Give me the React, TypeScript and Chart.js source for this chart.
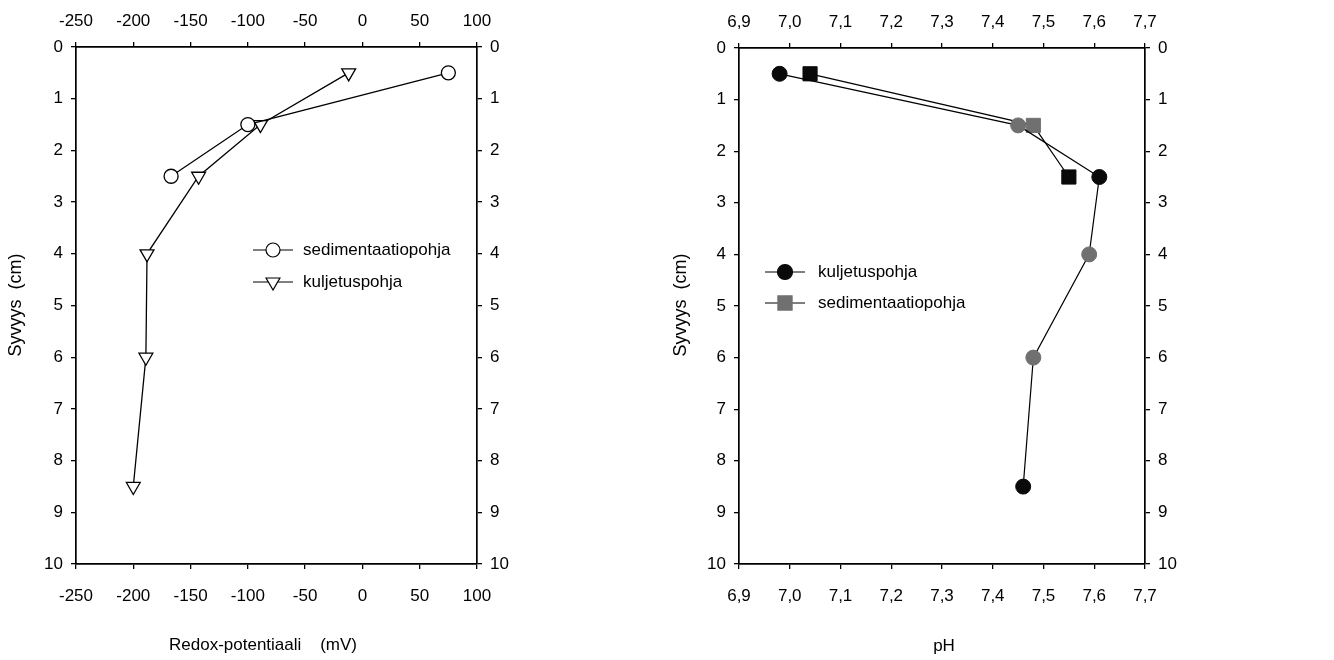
import React, { useEffect, useRef } from "react";
import { Chart, registerables } from "chart.js";
import { drawPoint } from "chart.js/helpers";

Chart.register(...registerables);

// Redox profile (mV) by sediment depth (cm)
const redoxDepthSediment = [0.5, 1.5, 2.5];
const redoxSediment = [75, -100, -167];
const redoxDepthTransport = [0.5, 1.5, 2.5, 4, 6, 8.5];
const redoxTransport = [-12, -89, -143, -188, -189, -200];

// pH profile by sediment depth (cm)
const phDepthTransport = [0.5, 1.5, 2.5, 4, 6, 8.5];
const phTransport = [6.98, 7.45, 7.61, 7.59, 7.48, 7.46];
const phTransportShade = ["dark", "grey", "dark", "grey", "grey", "dark"];
const phDepthSediment = [0.5, 1.5, 2.5];
const phSediment = [7.04, 7.48, 7.55];
const phSedimentShade = ["dark", "grey", "dark"];

const redoxTicks = [-250, -200, -150, -100, -50, 0, 50, 100];
const phTicks = [6.9, 7.0, 7.1, 7.2, 7.3, 7.4, 7.5, 7.6, 7.7];
const depthTicks = [0, 1, 2, 3, 4, 5, 6, 7, 8, 9, 10];

const FONT = "'Liberation Sans', Arial, Helvetica, sans-serif";
const DARK = "#0a0a0a";
const GREY = "#707070";

const shadeColor = (s: string) => (s === "grey" ? GREY : DARK);

type LegendItem = {
  label: string;
  style: string;
  radius: number;
  rotation?: number;
  fill: string;
};

// Legend drawn inside the plot area: short line, marker, label
const insetLegend = {
  id: "insetLegend",
  afterDraw(chart: any, _args: any, opts: any) {
    const { ctx } = chart;
    const items: LegendItem[] = opts.items || [];
    items.forEach((it, i) => {
      const cy = opts.y + i * opts.gap;
      ctx.save();
      ctx.strokeStyle = "#000";
      ctx.lineWidth = 1.2;
      ctx.beginPath();
      ctx.moveTo(opts.x - opts.half, cy);
      ctx.lineTo(opts.x + opts.half, cy);
      ctx.stroke();
      ctx.fillStyle = it.fill;
      ctx.strokeStyle = it.fill === "#ffffff" ? "#000" : it.fill;
      ctx.lineWidth = 1.2;
      drawPoint(
        ctx,
        { pointStyle: it.style as any, radius: it.radius, rotation: it.rotation || 0, borderWidth: 1.2 } as any,
        opts.x,
        cy
      );
      ctx.fillStyle = "#000";
      ctx.font = `17px ${FONT}`;
      ctx.textBaseline = "middle";
      ctx.textAlign = "left";
      ctx.fillText(it.label, opts.x + opts.textOffset, cy);
      ctx.restore();
    });
  },
};

// Axis captions placed at fixed spots around the frame
const axisCaptions = {
  id: "axisCaptions",
  afterDraw(chart: any, _args: any, opts: any) {
    const { ctx } = chart;
    (opts.items || []).forEach((c: any) => {
      ctx.save();
      ctx.translate(c.x, c.y);
      if (c.rotate) ctx.rotate(-Math.PI / 2);
      ctx.fillStyle = "#000";
      ctx.font = `${c.size}px ${FONT}`;
      ctx.textAlign = "center";
      ctx.textBaseline = "middle";
      ctx.fillText(c.text, 0, 0);
      ctx.restore();
    });
  },
};

type Frame = { left: number; right: number; top: number; bottom: number };

function makeScales(xTicks: number[], fmt: (v: number) => string, frame: Frame) {
  const tickFont = { family: FONT, size: 17 };
  const grid = {
    drawOnChartArea: false,
    drawTicks: true,
    tickLength: 5,
    color: "#000",
    lineWidth: 1.3,
  };
  const border = { display: true, color: "#000", width: 1.7 };
  const xBase = {
    type: "linear",
    min: xTicks[0],
    max: xTicks[xTicks.length - 1],
    grid,
    border,
    afterBuildTicks: (s: any) => {
      s.ticks = xTicks.map((v) => ({ value: v }));
    },
  };
  const yBase = {
    type: "linear",
    min: depthTicks[0],
    max: depthTicks[depthTicks.length - 1],
    reverse: true,
    grid,
    border,
    afterBuildTicks: (s: any) => {
      s.ticks = depthTicks.map((v) => ({ value: v }));
    },
  };
  return {
    x: {
      ...xBase,
      position: "bottom",
      ticks: { font: tickFont, color: "#000", padding: 17, maxRotation: 0, callback: (v: any) => fmt(Number(v)) },
      afterFit: (s: any) => {
        s.height = 660 - frame.bottom;
      },
    },
    x2: {
      ...xBase,
      position: "top",
      ticks: { font: tickFont, color: "#000", padding: 10, maxRotation: 0, callback: (v: any) => fmt(Number(v)) },
      afterFit: (s: any) => {
        s.height = frame.top;
      },
    },
    y: {
      ...yBase,
      position: "left",
      ticks: { font: tickFont, color: "#000", padding: 8 },
      afterFit: (s: any) => {
        s.width = frame.left;
      },
    },
    y2: {
      ...yBase,
      position: "right",
      ticks: { font: tickFont, color: "#000", padding: 8 },
      afterFit: (s: any) => {
        s.width = 667 - frame.right;
      },
    },
  };
}

function useChart(ref: React.RefObject<HTMLCanvasElement | null>, build: () => any) {
  useEffect(() => {
    if (!ref.current) return;
    const chart = new Chart(ref.current, build());
    return () => chart.destroy();
  }, []);
}

function RedoxChart() {
  const ref = useRef<HTMLCanvasElement>(null);
  useChart(ref, () => ({
    type: "scatter",
    data: {
      datasets: [
        {
          label: "sedimentaatiopohja",
          data: redoxSediment.map((v, i) => ({ x: v, y: redoxDepthSediment[i] })),
          showLine: true,
          borderColor: "#000",
          borderWidth: 1.3,
          pointStyle: "circle",
          pointRadius: 7,
          pointBackgroundColor: "#ffffff",
          pointBorderColor: "#000",
          pointBorderWidth: 1.3,
        },
        {
          label: "kuljetuspohja",
          data: redoxTransport.map((v, i) => ({ x: v, y: redoxDepthTransport[i] })),
          showLine: true,
          borderColor: "#000",
          borderWidth: 1.3,
          pointStyle: "triangle",
          pointRotation: 180,
          pointRadius: 8,
          pointBackgroundColor: "#ffffff",
          pointBorderColor: "#000",
          pointBorderWidth: 1.3,
        },
      ],
    },
    options: {
      responsive: false,
      animation: false,
      devicePixelRatio: 1,
      layout: { padding: 0 },
      scales: makeScales(redoxTicks, (v) => String(Math.round(v)), { left: 76, right: 477, top: 47, bottom: 564 }),
      plugins: {
        legend: { display: false },
        tooltip: { enabled: false },
        axisCaptions: {
          items: [
            { text: "Redox-potentiaali    (mV)", x: 263, y: 645, size: 17 },
            { text: "Syvyys  (cm)", x: 16, y: 305, size: 18, rotate: true },
          ],
        },
        insetLegend: {
          x: 273,
          y: 250,
          gap: 32,
          half: 20,
          textOffset: 30,
          items: [
            { label: "sedimentaatiopohja", style: "circle", radius: 7, fill: "#ffffff" },
            { label: "kuljetuspohja", style: "triangle", radius: 8, rotation: 180, fill: "#ffffff" },
          ],
        },
      },
    },
    plugins: [insetLegend, axisCaptions],
  }));
  return <canvas ref={ref} width={667} height={660} style={{ display: "block" }} />;
}

function PhChart() {
  const ref = useRef<HTMLCanvasElement>(null);
  useChart(ref, () => ({
    type: "scatter",
    data: {
      datasets: [
        {
          label: "kuljetuspohja",
          data: phTransport.map((v, i) => ({ x: v, y: phDepthTransport[i] })),
          showLine: true,
          borderColor: "#000",
          borderWidth: 1.2,
          pointStyle: "circle",
          pointRadius: 7.5,
          pointBackgroundColor: phTransportShade.map(shadeColor),
          pointBorderColor: phTransportShade.map(shadeColor),
          pointBorderWidth: 1,
        },
        {
          label: "sedimentaatiopohja",
          data: phSediment.map((v, i) => ({ x: v, y: phDepthSediment[i] })),
          showLine: true,
          borderColor: "#000",
          borderWidth: 1.2,
          pointStyle: "rect",
          pointRadius: 10,
          pointBackgroundColor: phSedimentShade.map(shadeColor),
          pointBorderColor: phSedimentShade.map(shadeColor),
          pointBorderWidth: 1,
        },
      ],
    },
    options: {
      responsive: false,
      animation: false,
      devicePixelRatio: 1,
      layout: { padding: 0 },
      scales: makeScales(phTicks, (v) => v.toFixed(1).replace(".", ","), { left: 72, right: 478, top: 48, bottom: 564 }),
      plugins: {
        legend: { display: false },
        tooltip: { enabled: false },
        axisCaptions: {
          items: [
            { text: "pH", x: 277, y: 646, size: 17 },
            { text: "Syvyys  (cm)", x: 14, y: 305, size: 18, rotate: true },
          ],
        },
        insetLegend: {
          x: 118,
          y: 272,
          gap: 31,
          half: 20,
          textOffset: 33,
          items: [
            { label: "kuljetuspohja", style: "circle", radius: 7.5, fill: DARK },
            { label: "sedimentaatiopohja", style: "rect", radius: 10, fill: GREY },
          ],
        },
      },
    },
    plugins: [insetLegend, axisCaptions],
  }));
  return <canvas ref={ref} width={667} height={660} style={{ display: "block" }} />;
}

export default function App() {
  return (
    <div
      style={{
        position: "absolute",
        left: 0,
        top: 0,
        width: 1334,
        height: 660,
        display: "flex",
        background: "#fff",
      }}
    >
      <RedoxChart />
      <PhChart />
    </div>
  );
}
